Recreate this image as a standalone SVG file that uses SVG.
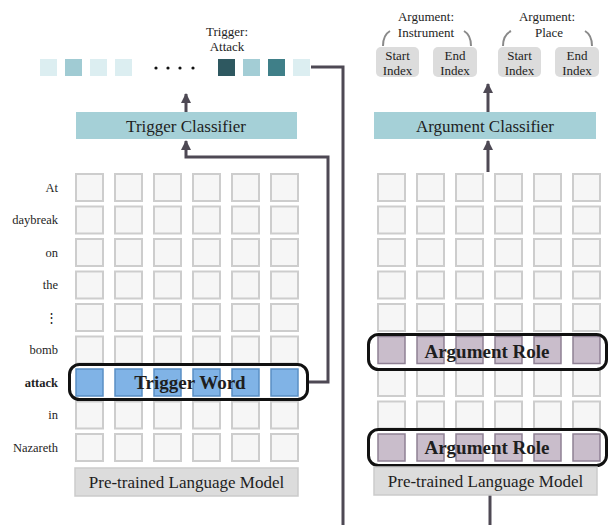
<svg xmlns="http://www.w3.org/2000/svg" xmlns:xlink="http://www.w3.org/1999/xlink" width="611" height="525" viewBox="0 0 611 525">
<style>
text{font-family:"Liberation Serif","Times New Roman",serif;fill:#1e1e1e}
.lbl{font-size:12.5px;text-anchor:end}
.sm{font-size:13px;text-anchor:middle}
.cls{font-size:17px;text-anchor:middle}
.bold{font-weight:bold;font-size:19px;text-anchor:middle}
.cell{fill:#f6f6f6;stroke:#cdcdcd;stroke-width:2}
.blue{fill:#80b3e6;stroke:#5a8fc4;stroke-width:1.5}
.purple{fill:#c9bdcb;stroke:#8f8194;stroke-width:1.5}
.wrap{fill:none;stroke:#111;stroke-width:3}
.conn{fill:none;stroke:#4e4954;stroke-width:3}
.brace{fill:none;stroke:#8a8a8a;stroke-width:2}
.idx{fill:#dcdcdc}
.plm{fill:#dcdcdc;stroke:#cbcbcb;stroke-width:1.5}
.clsbox{fill:#a5d0d7}
</style>
<defs>
<marker id="ah" markerUnits="userSpaceOnUse" markerWidth="10" markerHeight="10" refX="9" refY="5" orient="auto">
<path d="M0,0 L10,5 L0,10 z" fill="#4e4954"/>
</marker>
<g id="rowE"><rect class="cell" x="0" y="0" width="27" height="27"/><rect class="cell" x="39" y="0" width="27" height="27"/><rect class="cell" x="78" y="0" width="27" height="27"/><rect class="cell" x="117" y="0" width="27" height="27"/><rect class="cell" x="156" y="0" width="27" height="27"/><rect class="cell" x="195" y="0" width="27" height="27"/></g>
<g id="rowB"><rect class="blue" x="0" y="0" width="27" height="27"/><rect class="blue" x="39" y="0" width="27" height="27"/><rect class="blue" x="78" y="0" width="27" height="27"/><rect class="blue" x="117" y="0" width="27" height="27"/><rect class="blue" x="156" y="0" width="27" height="27"/><rect class="blue" x="195" y="0" width="27" height="27"/></g>
<g id="rowP"><rect class="purple" x="0" y="0" width="27" height="27"/><rect class="purple" x="39" y="0" width="27" height="27"/><rect class="purple" x="78" y="0" width="27" height="27"/><rect class="purple" x="117" y="0" width="27" height="27"/><rect class="purple" x="156" y="0" width="27" height="27"/><rect class="purple" x="195" y="0" width="27" height="27"/></g>
</defs>

<g id="connectors">
<path class="conn" d="M309 382 H328 V157 H186 V141" marker-end="url(#ah)"/>
<path class="conn" d="M186 112 V94" marker-end="url(#ah)"/>
<path class="conn" d="M311 67 H343 V525"/>
<path class="conn" d="M490 495 V525"/>
<path class="conn" d="M488 172 V141" marker-end="url(#ah)"/>
<path class="conn" d="M488 112 V84" marker-end="url(#ah)"/>
</g>

<g id="trigger-output">
<rect x="40" y="59" width="17" height="17" fill="#dceef1"/>
<rect x="65" y="59" width="17" height="17" fill="#a0cbd3"/>
<rect x="90" y="59" width="17" height="17" fill="#dceef1"/>
<rect x="115" y="59" width="17" height="17" fill="#dceef1"/>
<circle cx="156" cy="68" r="1.6" fill="#111"/>
<circle cx="168" cy="68" r="1.6" fill="#111"/>
<circle cx="180" cy="68" r="1.6" fill="#111"/>
<circle cx="193" cy="68" r="1.6" fill="#111"/>
<rect x="218" y="59" width="17" height="17" fill="#2e5860"/>
<rect x="243" y="59" width="17" height="17" fill="#a3cdd5"/>
<rect x="268" y="59" width="17" height="17" fill="#3f7f88"/>
<rect x="293" y="59" width="17" height="17" fill="#dceef1"/>
<text class="sm" x="227" y="36">Trigger:</text>
<text class="sm" x="227" y="51">Attack</text>
</g>

<g id="trigger-classifier">
<rect class="clsbox" x="76" y="112" width="221" height="27"/>
<text class="cls" x="186" y="132">Trigger Classifier</text>
</g>

<g id="argument-output">
<path class="brace" d="M383 46 Q383 35 390 31"/>
<path class="brace" d="M471 46 Q471 35 464 31"/>
<path class="brace" d="M503 46 Q503 35 511 31"/>
<path class="brace" d="M592 46 Q592 35 585 31"/>
<text class="sm" x="426" y="21">Argument:</text>
<text class="sm" x="426" y="37">Instrument</text>
<text class="sm" x="547" y="21">Argument:</text>
<text class="sm" x="549" y="37">Place</text>
<rect class="idx" x="376" y="47" width="43" height="30" rx="5"/>
<rect class="idx" x="433" y="47" width="44" height="30" rx="5"/>
<rect class="idx" x="498" y="47" width="43" height="30" rx="5"/>
<rect class="idx" x="555" y="47" width="44" height="30" rx="5"/>
<text class="sm" x="397.5" y="60">Start</text>
<text class="sm" x="397.5" y="75">Index</text>
<text class="sm" x="455" y="60">End</text>
<text class="sm" x="455" y="75">Index</text>
<text class="sm" x="519.5" y="60">Start</text>
<text class="sm" x="519.5" y="75">Index</text>
<text class="sm" x="577" y="60">End</text>
<text class="sm" x="577" y="75">Index</text>
</g>

<g id="argument-classifier">
<rect class="clsbox" x="374" y="112" width="222" height="27"/>
<text class="cls" x="485" y="132">Argument Classifier</text>
</g>

<g id="left-tokens">
<text class="lbl" x="58" y="192">At</text>
<text class="lbl" x="58" y="224">daybreak</text>
<text class="lbl" x="58" y="257">on</text>
<text class="lbl" x="58" y="289">the</text>
<text class="lbl" x="58" y="322">⋮</text>
<text class="lbl" x="58" y="354">bomb</text>
<text class="lbl" x="58" y="387" font-weight="bold">attack</text>
<text class="lbl" x="58" y="419">in</text>
<text class="lbl" x="58" y="452">Nazareth</text>
</g>

<g id="left-grid">
<use href="#rowE" x="76" y="174"/>
<use href="#rowE" x="76" y="206.5"/>
<use href="#rowE" x="76" y="239"/>
<use href="#rowE" x="76" y="271.5"/>
<use href="#rowE" x="76" y="304"/>
<use href="#rowE" x="76" y="336.5"/>
<use href="#rowB" x="76" y="369"/>
<use href="#rowE" x="76" y="401.5"/>
<use href="#rowE" x="76" y="434"/>
</g>

<g id="trigger-word">
<rect class="wrap" x="69.5" y="364.5" width="238" height="35" rx="10"/>
<text class="bold" x="190" y="389">Trigger Word</text>
</g>

<g id="left-plm">
<rect class="plm" x="75" y="468" width="223" height="28"/>
<text class="cls" x="186.5" y="488">Pre-trained Language Model</text>
</g>

<g id="right-grid">
<use href="#rowE" x="378" y="174"/>
<use href="#rowE" x="378" y="206.5"/>
<use href="#rowE" x="378" y="239"/>
<use href="#rowE" x="378" y="271.5"/>
<use href="#rowE" x="378" y="304"/>
<use href="#rowP" x="378" y="336.5"/>
<use href="#rowE" x="378" y="369"/>
<use href="#rowE" x="378" y="401.5"/>
<use href="#rowP" x="378" y="434"/>
</g>

<g id="argument-role-1">
<rect class="wrap" x="368.5" y="334.5" width="238" height="35" rx="10"/>
<text class="bold" x="487" y="358">Argument Role</text>
</g>

<g id="argument-role-2">
<rect class="wrap" x="368.5" y="429.5" width="238" height="36" rx="10"/>
<text class="bold" x="487" y="454">Argument Role</text>
</g>

<g id="right-plm">
<rect class="plm" x="374" y="467" width="223" height="28"/>
<text class="cls" x="485.5" y="487">Pre-trained Language Model</text>
</g>
</svg>
